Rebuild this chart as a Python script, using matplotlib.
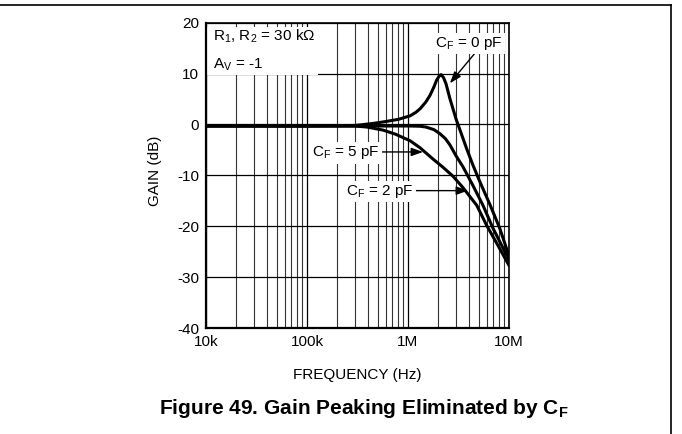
import matplotlib.pyplot as plt
from matplotlib.lines import Line2D
from matplotlib.patches import Rectangle
from matplotlib.ticker import NullFormatter, LogLocator
import numpy as np

plt.rcParams['font.family'] = ['Liberation Sans', 'DejaVu Sans']
plt.rcParams['mathtext.fontset'] = 'custom'
plt.rcParams['mathtext.rm'] = 'Liberation Sans'
plt.rcParams['mathtext.it'] = 'Liberation Sans'
plt.rcParams['mathtext.bf'] = 'Liberation Sans:bold'
plt.rcParams['axes.unicode_minus'] = False

# Datos (frecuencia en Hz, ganancia en dB)
f_0pf = [1e4, 1e5, 3e5, 4.5e5, 5.7e5, 8e5, 1.05e6, 1.2e6, 1.32e6, 1.5e6, 1.65e6,
         1.8e6, 1.92e6, 2.05e6, 2.13e6, 2.25e6, 2.38e6, 2.6e6, 3.0e6, 3.4e6,
         3.8e6, 4.4e6, 5.16e6, 6.5e6, 8.1e6, 1e7]
g_0pf = [-0.3, -0.3, -0.2, 0.2, 0.5, 1.0, 1.7, 2.4, 3.1, 4.4, 5.7,
         7.3, 8.7, 9.6, 9.8, 9.2, 8.0, 5.1, 1.0, -2.0,
         -4.7, -8.0, -11.3, -15.8, -20.4, -25.8]

f_2pf = [1e4, 1e5, 5e5, 1.05e6, 1.32e6, 1.5e6, 1.8e6, 2.07e6, 2.35e6, 2.6e6,
         3.0e6, 3.5e6, 4.4e6, 5.5e6, 6.95e6, 1e7]
g_2pf = [-0.3, -0.3, -0.3, -0.3, -0.35, -0.5, -1.0, -1.8, -2.8, -4.0,
         -6.2, -8.3, -12.0, -15.8, -20.4, -26.6]

f_5pf = [1e4, 1e5, 3e5, 3.9e5, 5.65e5, 7.5e5, 1.05e6, 1.32e6, 1.77e6, 2.22e6,
         2.8e6, 3.5e6, 4.8e6, 6.0e6, 8.1e6, 1e7]
g_5pf = [-0.3, -0.3, -0.3, -0.5, -1.1, -1.9, -3.2, -4.6, -6.8, -8.4,
         -10.2, -12.4, -15.9, -19.8, -24.4, -27.7]

yticks = [-40, -30, -20, -10, 0, 10, 20]
xticks = [1e4, 1e5, 1e6, 1e7]
xticklabels = ['10k', '100k', '1M', '10M']

fig = plt.figure(figsize=(6.82, 4.34), dpi=100)
ax = fig.add_axes([0.302, 0.2442, 0.4443, 0.7035])

for f, g in [(f_5pf, g_5pf), (f_2pf, g_2pf), (f_0pf, g_0pf)]:
    ax.plot(f, g, color='black', linewidth=2.2, solid_capstyle='round',
            solid_joinstyle='round', zorder=3)

ax.set_xscale('log')
ax.set_xlim(1e4, 1e7)
ax.set_ylim(-40, 20)
ax.set_xticks(xticks)
ax.set_xticklabels(xticklabels)
ax.xaxis.set_minor_locator(LogLocator(base=10, subs=np.arange(2, 10)))
ax.xaxis.set_minor_formatter(NullFormatter())
ax.set_yticks(yticks)
ax.tick_params(which='both', length=0, labelsize=11)
ax.tick_params(axis='y', pad=5)
ax.tick_params(axis='x', pad=5)
for lab in ax.get_yticklabels():
    lab.set_va('center_baseline')

# Rejilla
ax.grid(True, which='major', axis='both', color='black', linewidth=0.9)
ax.grid(True, which='minor', axis='x', color='#333333', linewidth=0.8)
ax.set_axisbelow(True)

for s in ['left', 'bottom']:
    ax.spines[s].set_linewidth(1.6)
for s in ['top', 'right']:
    ax.spines[s].set_linewidth(1.2)

ax.set_xlabel('FREQUENCY (Hz)', fontsize=11, labelpad=14)
ax.set_ylabel('GAIN (dB)', fontsize=11)
ax.yaxis.set_label_coords(-0.145, 0.516)

# Recuadro blanco detras de las condiciones
ax.add_patch(Rectangle((0, (328 - 75) / 305), (318 - 206) / 303, (75 - 27) / 305,
                       transform=ax.transAxes, facecolor='white', edgecolor='none',
                       zorder=2.5))
ax.text(1.17e4, 17.3, r'R$_1$, R$_2$ = 30 k$\Omega$', fontsize=11, va='center', ha='left',
        zorder=4)
ax.text(1.17e4, 11.8, r'A$_\mathrm{V}$ = -1', fontsize=11, va='center', ha='left',
        zorder=4)

box = dict(facecolor='white', edgecolor='none', pad=1.5)
arrow = dict(arrowstyle='-|>,head_length=0.7,head_width=0.25', color='black',
             lw=1.0, shrinkA=0, shrinkB=0)
ax.annotate('', xy=(2.6e6, 8.1), xytext=(4.6e6, 14.0), arrowprops=arrow, zorder=4)
ax.text(4.02e6, 15.9, r'C$_\mathrm{F}$ = 0 pF', fontsize=11, va='center', ha='center',
        bbox=box, zorder=4)

ax.annotate('', xy=(1.41e6, -5.4), xytext=(5.28e5, -5.4), arrowprops=arrow, zorder=4)
ax.text(2.43e5, -5.6, r'C$_\mathrm{F}$ = 5 pF', fontsize=11, va='center', ha='center',
        bbox=box, zorder=4)

ax.annotate('', xy=(3.93e6, -13.0), xytext=(1.12e6, -13.0), arrowprops=arrow, zorder=4)
ax.text(5.28e5, -13.2, r'C$_\mathrm{F}$ = 2 pF', fontsize=11, va='center', ha='center',
        bbox=box, zorder=4)

# Titulo
fig.text(364 / 682, 1 - 408 / 434, r'Figure 49. Gain Peaking Eliminated by C$_\mathbf{F}$',
         fontsize=15, fontweight='bold', ha='center', va='center')

# Marco
fig.add_artist(Line2D([0, 671 / 682], [1 - 5 / 434, 1 - 5 / 434], color='black', lw=1.2))
fig.add_artist(Line2D([671 / 682, 671 / 682], [1 - 5 / 434, 0], color='black', lw=1.2))

fig.savefig('out.png', dpi=100)
